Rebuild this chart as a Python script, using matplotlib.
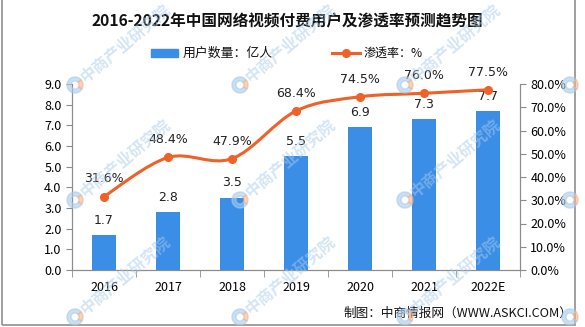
import numpy as np
import matplotlib.pyplot as plt
from matplotlib.path import Path
from matplotlib.patches import PathPatch, Rectangle, Wedge
from matplotlib.lines import Line2D
from matplotlib.transforms import IdentityTransform

plt.rcParams['font.family'] = ['Noto Sans CJK SC', 'DejaVu Sans']

# ---- data ----
years = ["2016", "2017", "2018", "2019", "2020", "2021", "2022E"]
users = [1.7, 2.8, 3.5, 5.5, 6.9, 7.3, 7.7]               # 亿人
penetration = [31.6, 48.4, 47.9, 68.4, 74.5, 76.0, 77.5]  # %

BAR_COLOR = "#3A8EE6"
LINE_COLOR = "#EF6127"
AXIS_COLOR = "#8C8C8C"
W, H = 585, 327


def smooth_path(xs, ys, k=1 / 6):
    """Catmull-Rom style bezier path through the points."""
    pts = np.column_stack([xs, ys]).astype(float)
    verts = [pts[0]]
    codes = [Path.MOVETO]
    n = len(pts)
    for i in range(n - 1):
        p0 = pts[max(i - 1, 0)]
        p1 = pts[i]
        p2 = pts[i + 1]
        p3 = pts[min(i + 2, n - 1)]
        verts += [p1 + (p2 - p0) * k, p2 - (p3 - p1) * k, p2]
        codes += [Path.CURVE4] * 3
    return Path(verts, codes)


def fit_text(fig, txt, width_px):
    """Scale a text's font size so it spans the given pixel width."""
    renderer = fig.canvas.get_renderer()
    w = txt.get_window_extent(renderer).width
    txt.set_fontsize(txt.get_fontsize() * width_px / w)


def px_text(fig, x, y, s, **kw):
    return fig.text(x / W, 1 - y / H, s, **kw)


fig = plt.figure(figsize=(W / 100, H / 100), dpi=100)
ax = fig.add_axes([72 / W, 1 - 270 / H, 448 / W, 186 / H])
ax2 = ax.twinx()

x = np.arange(len(years))

# bars: user count
ax.bar(x, users, width=0.37, color=BAR_COLOR, zorder=2)
for xi, v in zip(x, users):
    ax.annotate(f"{v:.1f}", (xi, v), xytext=(0, 6), textcoords="offset points",
                ha="center", va="bottom", fontsize=9, color="#222222",
                family="DejaVu Sans")

ax.set_xlim(-0.5, len(years) - 0.5)
ax.set_ylim(0, 9)
left_ticks = np.arange(0, 9.1, 1.0)
ax.set_yticks(left_ticks)
ax.set_yticklabels([f"{v:.1f}" for v in left_ticks])

# line: penetration rate
ax2.set_ylim(0, 80)
ax2.add_patch(PathPatch(smooth_path(x, penetration), facecolor="none",
                        edgecolor=LINE_COLOR, lw=2.2, zorder=3))
ax2.plot(x, penetration, "o", color=LINE_COLOR, ms=5.5, zorder=4)
for xi, v in zip(x, penetration):
    ax2.annotate(f"{v:.1f}%", (xi, v), xytext=(0, 8), textcoords="offset points",
                 ha="center", va="bottom", fontsize=9, color="#222222",
                 family="DejaVu Sans")
right_ticks = np.arange(0, 81, 10)
ax2.set_yticks(right_ticks)
ax2.set_yticklabels([f"{v:.1f}%" for v in right_ticks])

# category ticks sit between the bars
ax.set_xticks(x)
ax.set_xticklabels(years)
ax.set_xticks(np.arange(-0.5, len(years), 1.0), minor=True)
ax.tick_params(axis="x", which="major", length=0, pad=8, labelsize=9)
ax.tick_params(axis="x", which="minor", length=5, color=AXIS_COLOR)

for a in (ax, ax2):
    a.spines["top"].set_visible(False)
    for s in ("left", "right", "bottom"):
        a.spines[s].set_color(AXIS_COLOR)
ax.tick_params(axis="y", length=4, color=AXIS_COLOR, labelsize=9)
ax2.tick_params(axis="y", length=4, color=AXIS_COLOR, labelsize=9)

# title
title = px_text(fig, 92, 21, "2016-2022年中国网络视频付费用户及渗透率预测趋势图",
                ha="left", va="center", fontsize=13, fontweight="bold",
                color="#111111")
fit_text(fig, title, 391)

# legend, laid out by hand
fig.patches.append(Rectangle((151 / W, 1 - 57 / H), 27 / W, 8 / H,
                             transform=fig.transFigure, color=BAR_COLOR))
leg1 = px_text(fig, 183, 53, "用户数量：亿人", ha="left", va="center",
               fontsize=10, color="#111111")
fit_text(fig, leg1, 90)
fig.lines.append(Line2D([332 / W, 360 / W], [1 - 53 / H] * 2, color=LINE_COLOR,
                        lw=2.2, marker="o", ms=5.5, markevery=[],
                        transform=fig.transFigure))
fig.lines.append(Line2D([346 / W], [1 - 53 / H], color=LINE_COLOR, marker="o",
                        ms=5.5, transform=fig.transFigure))
leg2 = px_text(fig, 364, 53, "渗透率：%", ha="left", va="center",
               fontsize=10, color="#111111")
fit_text(fig, leg2, 59)

# footer
footer = px_text(fig, 572, 313, "制图：中商情报网（WWW.ASKCI.COM）",
                 ha="right", va="center", fontsize=9.5, color="#111111")
fit_text(fig, footer, 230)

# watermark grid: ring logo followed by the institute name
for cx in (75, 240, 405, 570):
    for cy in (85, 200, 317):
        px, py = cx, H - cy
        fig.patches.append(Wedge((px, py), 8, 40, 330, width=4,
                                 transform=IdentityTransform(),
                                 color="#A9CBEB", alpha=0.6, zorder=10))
        fig.patches.append(Wedge((px, py), 8, 330, 400, width=4,
                                 transform=IdentityTransform(),
                                 color="#F2B48E", alpha=0.6, zorder=10))
        if cx < 500:
            fig.text((px + 8) / W, (py + 6) / H, "中商产业研究院", rotation=40,
                     rotation_mode="anchor", ha="left", va="center",
                     fontsize=11.5, fontweight="bold", color="#A9CBEB",
                     alpha=0.5, zorder=10)

# outer frame
frame = Rectangle((2 / W, 2 / H), 573 / W, 330 / H, transform=fig.transFigure,
                  fill=False, edgecolor="#909090", lw=1.2)
fig.patches.append(frame)

fig.savefig("out.png", dpi=100)
